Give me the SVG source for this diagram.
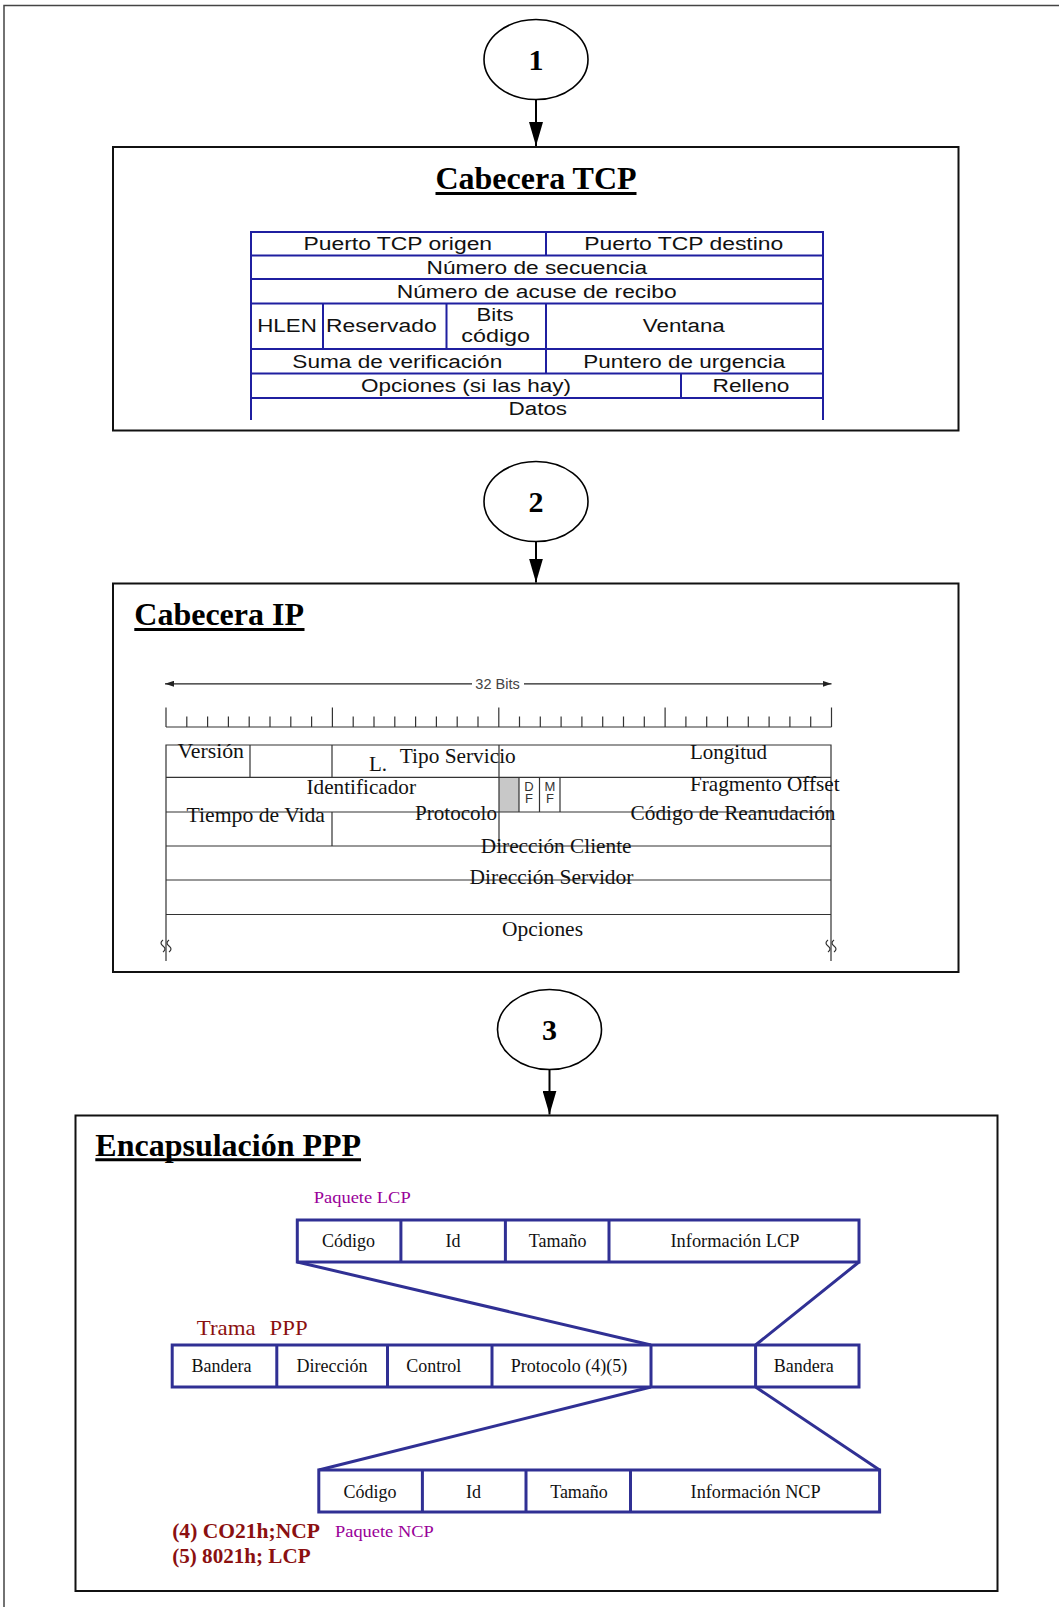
<svg xmlns="http://www.w3.org/2000/svg" width="1059" height="1607" viewBox="0 0 1059 1607">
  <style>
    .frame { fill: none; stroke: #111; stroke-width: 2; }
    .outer { fill: none; stroke: #444; stroke-width: 1.5; }
    .bubble { fill: #fff; stroke: #000; stroke-width: 1.6; }
    .num { font-family: "Liberation Serif", serif; font-weight: bold; font-size: 30px; text-anchor: middle; fill: #000; }
    .title { font-family: "Liberation Serif", serif; font-weight: bold; font-size: 32px; fill: #000; }
    .uline { stroke: #000; stroke-width: 3; }
    .tcpgrid { fill: none; stroke: #1f1fa0; stroke-width: 2; }
    .tcp { font-family: "Liberation Sans", Arial, sans-serif; font-size: 18px; text-anchor: middle; fill: #111; }
    .ipgrid { fill: none; stroke: #333; stroke-width: 1.2; }
    .ip { font-family: "Liberation Serif", serif; font-size: 21px; fill: #111; }
    .bits { font-family: "Liberation Sans", Arial, sans-serif; font-size: 14.5px; fill: #444; text-anchor: middle; }
    .flag { font-family: "Liberation Sans", Arial, sans-serif; font-size: 13px; fill: #333; text-anchor: middle; }
    .pppgrid { fill: #fff; stroke: #303094; stroke-width: 3; }
    .pppline { fill: none; stroke: #303094; stroke-width: 3; }
    .cell { font-family: "Liberation Serif", serif; font-size: 18px; text-anchor: middle; fill: #111; }
    .purple { font-family: "Liberation Serif", serif; font-size: 17px; fill: #990099; }
    .red { font-family: "Liberation Serif", serif; fill: #8b1010; }
    .conn { stroke: #000; stroke-width: 2; fill: none; }
  </style>
  <defs>
    <!-- heavy arrowhead for the step connectors -->
    <marker id="head" markerUnits="userSpaceOnUse" markerWidth="24" markerHeight="14" refX="24" refY="7" orient="auto" viewBox="0 0 24 14">
      <path d="M0,0 L24,7 L0,14 Z" fill="#000"/>
    </marker>
    <!-- small arrowhead for the 32-bit width indicator -->
    <marker id="tip" markerUnits="userSpaceOnUse" markerWidth="9" markerHeight="6" refX="9" refY="3" orient="auto" viewBox="0 0 9 6">
      <path d="M0,0 L9,3 L0,6 Z" fill="#222"/>
    </marker>
  </defs>

  <rect width="1059" height="1607" fill="#fff"/>

  <!-- page border (top and left edges) -->
  <g id="page-border">
    <path class="outer" d="M4,1607 V5.5 H1059"/>
  </g>

  <!-- step bubbles -->
  <g id="step-1">
    <ellipse class="bubble" cx="536" cy="59.5" rx="52" ry="40"/>
    <text class="num" x="536" y="70">1</text>
  </g>
  <g id="step-2">
    <ellipse class="bubble" cx="536" cy="501.5" rx="52" ry="40"/>
    <text class="num" x="536" y="512">2</text>
  </g>
  <g id="step-3">
    <ellipse class="bubble" cx="549.5" cy="1029.5" rx="52" ry="40"/>
    <text class="num" x="549.5" y="1040">3</text>
  </g>

  <!-- TCP header -->
  <g id="tcp-header">
    <rect class="frame" x="113" y="147" width="845.5" height="283.5"/>
    <text class="title" x="536" y="188.5" text-anchor="middle">Cabecera TCP</text>
    <line class="uline" x1="435.5" y1="193.5" x2="636.5" y2="193.5"/>
    <path class="tcpgrid" d="M251,420 V232 H823 V420
      M251,255.5 H823 M251,279 H823 M251,303.5 H823 M251,349 H823 M251,373.5 H823 M251,398 H823
      M546,232 V255.5 M323,303.5 V349 M446.5,303.5 V349 M546,303.5 V373.5 M681,373.5 V398"/>
    <text class="tcp" x="397.8" y="250" textLength="188.6" lengthAdjust="spacingAndGlyphs">Puerto TCP origen</text>
    <text class="tcp" x="683.8" y="250" textLength="199" lengthAdjust="spacingAndGlyphs">Puerto TCP destino</text>
    <text class="tcp" x="536.8" y="273.5" textLength="220.5" lengthAdjust="spacingAndGlyphs">Número de secuencia</text>
    <text class="tcp" x="536.7" y="297.5" textLength="280" lengthAdjust="spacingAndGlyphs">Número de acuse de recibo</text>
    <text class="tcp" x="287" y="332" textLength="59.5" lengthAdjust="spacingAndGlyphs">HLEN</text>
    <text class="tcp" x="381.4" y="332" textLength="110.7" lengthAdjust="spacingAndGlyphs">Reservado</text>
    <text class="tcp" x="495" y="321" textLength="37" lengthAdjust="spacingAndGlyphs">Bits</text>
    <text class="tcp" x="495.7" y="341.5" textLength="68.7" lengthAdjust="spacingAndGlyphs">código</text>
    <text class="tcp" x="683.8" y="332" textLength="82" lengthAdjust="spacingAndGlyphs">Ventana</text>
    <text class="tcp" x="397.3" y="367.5" textLength="210" lengthAdjust="spacingAndGlyphs">Suma de verificación</text>
    <text class="tcp" x="684.3" y="367.5" textLength="202" lengthAdjust="spacingAndGlyphs">Puntero de urgencia</text>
    <text class="tcp" x="466" y="391.5" textLength="210" lengthAdjust="spacingAndGlyphs">Opciones (si las hay)</text>
    <text class="tcp" x="751" y="391.5" textLength="77" lengthAdjust="spacingAndGlyphs">Relleno</text>
    <text class="tcp" x="537.8" y="414.5" textLength="58.5" lengthAdjust="spacingAndGlyphs">Datos</text>
  </g>

  <!-- IP header -->
  <g id="ip-header">
    <rect class="frame" x="113" y="583.5" width="845.5" height="388.5"/>
    <text class="title" x="134.3" y="625">Cabecera IP</text>
    <line class="uline" x1="134.3" y1="629.5" x2="304.5" y2="629.5"/>

    <!-- 32-bit width indicator -->
    <line x1="472" y1="683.8" x2="165" y2="683.8" stroke="#222" stroke-width="1.2" marker-end="url(#tip)"/>
    <line x1="524" y1="683.8" x2="831.5" y2="683.8" stroke="#222" stroke-width="1.2" marker-end="url(#tip)"/>
    <text class="bits" x="497.5" y="689">32 Bits</text>

    <!-- bit ruler -->
    <path class="ipgrid" d="M166,727 H831.5
      M166,707.4 V727 M186.8,716.6 V727 M207.6,716.6 V727 M228.4,716.6 V727 M249.2,716.6 V727 M270,716.6 V727 M290.8,716.6 V727 M311.6,716.6 V727
      M332.4,707.4 V727 M353.2,716.6 V727 M374,716.6 V727 M394.8,716.6 V727 M415.6,716.6 V727 M436.4,716.6 V727 M457.2,716.6 V727 M478,716.6 V727
      M498.8,707.4 V727 M519.5,716.6 V727 M540.3,716.6 V727 M561.1,716.6 V727 M581.9,716.6 V727 M602.7,716.6 V727 M623.5,716.6 V727 M644.3,716.6 V727
      M665.1,707.4 V727 M685.9,716.6 V727 M706.7,716.6 V727 M727.5,716.6 V727 M748.3,716.6 V727 M769.1,716.6 V727 M789.9,716.6 V727 M810.7,716.6 V727
      M831.5,707.4 V727"/>

    <!-- field grid -->
    <rect x="499" y="777.3" width="20" height="34.7" fill="#c8c8c8"/>
    <path class="ipgrid" d="M166,961 V745 H831 V961
      M166,777.3 H831 M166,812 H831 M166,846 H831 M166,880 H831 M166,914.5 H831
      M250,745 V777.3 M332,745 V777.3 M332,812 V846 M499,745 V846
      M519,777.3 V812 M539.5,777.3 V812 M560,777.3 V812"/>
    <!-- break marks on the open bottom -->
    <path class="ipgrid" d="M163,940 q-4,3 0,6 q4,3 0,6 M169,940 q-4,3 0,6 q4,3 0,6"/>
    <path class="ipgrid" d="M828,940 q-4,3 0,6 q4,3 0,6 M834,940 q-4,3 0,6 q4,3 0,6"/>

    <text class="flag" x="529" y="790.5">D</text>
    <text class="flag" x="529" y="802.5">F</text>
    <text class="flag" x="550" y="790.5">M</text>
    <text class="flag" x="550" y="802.5">F</text>

    <text class="ip" x="177.4" y="758" textLength="66.6" lengthAdjust="spacingAndGlyphs">Versión</text>
    <text class="ip" x="399.8" y="762.5" textLength="116" lengthAdjust="spacingAndGlyphs">Tipo Servicio</text>
    <text class="ip" x="369" y="771" font-size="12">L.</text>
    <text class="ip" x="690" y="758.5" textLength="77" lengthAdjust="spacingAndGlyphs">Longitud</text>
    <text class="ip" x="306.5" y="793.5" textLength="109.5" lengthAdjust="spacingAndGlyphs">Identificador</text>
    <text class="ip" x="690" y="790.5" textLength="149.6" lengthAdjust="spacingAndGlyphs">Fragmento Offset</text>
    <text class="ip" x="186.6" y="822" textLength="138.4" lengthAdjust="spacingAndGlyphs">Tiempo de Vida</text>
    <text class="ip" x="415" y="820" textLength="82" lengthAdjust="spacingAndGlyphs">Protocolo</text>
    <text class="ip" x="630.5" y="820" textLength="205" lengthAdjust="spacingAndGlyphs">Código de Reanudación</text>
    <text class="ip" x="480.8" y="853.3" textLength="150.7" lengthAdjust="spacingAndGlyphs">Dirección Cliente</text>
    <text class="ip" x="469.5" y="884" textLength="164" lengthAdjust="spacingAndGlyphs">Dirección Servidor</text>
    <text class="ip" x="502" y="935.5" textLength="81" lengthAdjust="spacingAndGlyphs">Opciones</text>
  </g>

  <!-- PPP encapsulation -->
  <g id="ppp-encapsulation">
    <rect class="frame" x="75.5" y="1115.5" width="922" height="475.5"/>
    <text class="title" x="95.3" y="1155.5">Encapsulación PPP</text>
    <line class="uline" x1="95.3" y1="1159.8" x2="361" y2="1159.8"/>

    <!-- expansion lines between the frame and the packets -->
    <path class="pppline" d="M297.3,1262 L651,1345 M859,1262 L755.6,1345 M651,1387 L318.8,1470 M755.6,1387 L879.6,1470"/>

    <g id="lcp-packet">
      <text class="purple" x="313.7" y="1202.6" textLength="97" lengthAdjust="spacingAndGlyphs">Paquete LCP</text>
      <rect class="pppgrid" x="297.3" y="1220" width="561.7" height="42"/>
      <path class="pppline" d="M400.9,1220 V1262 M505.4,1220 V1262 M609,1220 V1262"/>
      <text class="cell" x="348.6" y="1246.7">Código</text>
      <text class="cell" x="453" y="1246.7">Id</text>
      <text class="cell" x="557.7" y="1246.7">Tamaño</text>
      <text class="cell" x="735" y="1246.7" textLength="129" lengthAdjust="spacingAndGlyphs">Información LCP</text>
    </g>

    <g id="ppp-frame">
      <text class="red" y="1334.8" font-size="22"><tspan x="196.8" textLength="59" lengthAdjust="spacingAndGlyphs">Trama</tspan><tspan x="269.6" textLength="38" lengthAdjust="spacingAndGlyphs">PPP</tspan></text>
      <rect class="pppgrid" x="172.2" y="1345" width="686.8" height="42"/>
      <path class="pppline" d="M276.8,1345 V1387 M387.5,1345 V1387 M492,1345 V1387 M651,1345 V1387 M755.6,1345 V1387"/>
      <text class="cell" x="221.4" y="1371.7">Bandera</text>
      <text class="cell" x="332" y="1371.7">Dirección</text>
      <text class="cell" x="433.7" y="1371.7">Control</text>
      <text class="cell" x="569" y="1371.7">Protocolo (4)(5)</text>
      <text class="cell" x="803.8" y="1371.7">Bandera</text>
    </g>

    <g id="ncp-packet">
      <rect class="pppgrid" x="318.8" y="1470" width="560.8" height="42"/>
      <path class="pppline" d="M422.4,1470 V1512 M526,1470 V1512 M630.5,1470 V1512"/>
      <text class="cell" x="370" y="1497.8">Código</text>
      <text class="cell" x="473.6" y="1497.8">Id</text>
      <text class="cell" x="579" y="1497.8">Tamaño</text>
      <text class="cell" x="755.6" y="1497.8" textLength="130" lengthAdjust="spacingAndGlyphs">Información NCP</text>
      <text class="purple" x="335" y="1536.8" textLength="98.7" lengthAdjust="spacingAndGlyphs">Paquete NCP</text>
    </g>

    <g id="protocol-notes">
      <text class="red" x="172.2" y="1537.8" font-size="20" font-weight="bold" textLength="147.8" lengthAdjust="spacingAndGlyphs">(4) CO21h;NCP</text>
      <text class="red" x="172.2" y="1563.4" font-size="20" font-weight="bold" textLength="138.4" lengthAdjust="spacingAndGlyphs">(5) 8021h; LCP</text>
    </g>
  </g>

  <!-- connectors between steps -->
  <g id="connectors">
    <line class="conn" x1="536" y1="99.5" x2="536" y2="146" marker-end="url(#head)"/>
    <line class="conn" x1="536" y1="541.5" x2="536" y2="582.5" marker-end="url(#head)"/>
    <line class="conn" x1="549.5" y1="1069.5" x2="549.5" y2="1114.5" marker-end="url(#head)"/>
  </g>
</svg>
